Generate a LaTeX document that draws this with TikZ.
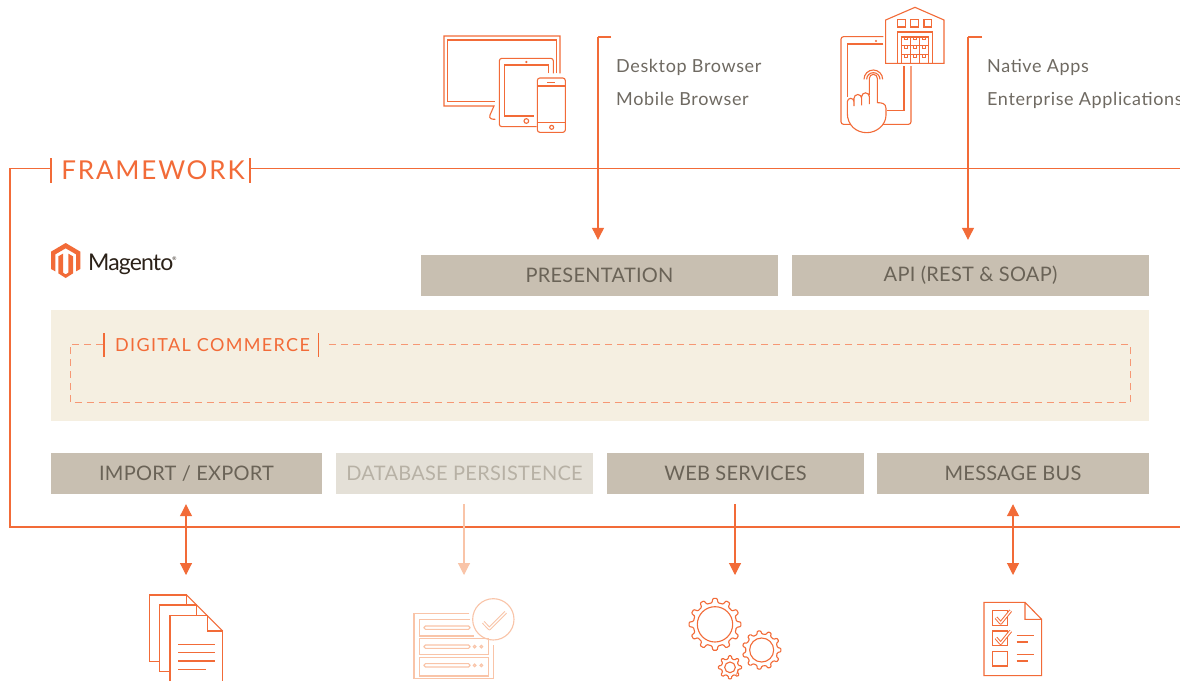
\documentclass[tikz,border=0pt]{standalone}
\usepackage{fontspec}
\setmainfont{Lato}
\newfontfamily\boxfont[LetterSpace=1.3]{Lato}
\newfontfamily\sidefont[LetterSpace=3.5]{Lato}
\newfontfamily\framefont[LetterSpace=7]{Lato}
\newfontfamily\dcfont[LetterSpace=7.5]{Lato}
\newfontfamily\logofont[LetterSpace=-3.7]{Lato}
\usetikzlibrary{arrows.meta,calc}
\definecolor{mgorange}{HTML}{F26B38}
\definecolor{mgpale}{HTML}{F9C4A8}
\definecolor{mgbox}{HTML}{C8BFB1}
\definecolor{mgboxpale}{HTML}{E4E0D7}
\definecolor{mgcream}{HTML}{F5EFE1}
\definecolor{mgtext}{HTML}{6A6357}
\definecolor{mgtextpale}{HTML}{B7B1A5}
\definecolor{mgside}{HTML}{6F6A62}
\definecolor{mgdark}{HTML}{2B2118}
\tikzset{
  layerbox/.style={fill=mgbox,text=mgtext,font=\boxfont\fontsize{20}{24}\selectfont,inner sep=0pt,anchor=center},
  sidetext/.style={text=mgside,font=\sidefont\fontsize{18}{22}\selectfont,anchor=base west,inner sep=0pt},
  frameline/.style={draw=mgorange,line width=1.1pt},
  tick/.style={draw=mgorange,line width=1.1pt},
  flow/.style={draw=mgorange,line width=1.1pt,-{Triangle[length=12pt,width=12pt]}},
  flowboth/.style={draw=mgorange,line width=1.1pt,{Triangle[length=12pt,width=12pt]}-{Triangle[length=12pt,width=12pt]}},
  icon/.style={draw=mgorange,line width=1.1pt,line join=miter},
  outlined/.style={double=white,double distance=1.3pt,line width=1pt,line join=round},
}
\newcommand{\gearshape}[7]{% cx cy outer root teeth inner colour
  \draw[#7,line width=1.1pt,rounded corners=.9pt]
    ({#1+#4*cos(360*(.5)/#5)},{#2+#4*sin(360*(.5)/#5)})
    \foreach \k in {1,...,#5}{
      -- ({#1+#4*cos(360*(\k-.27)/#5)},{#2+#4*sin(360*(\k-.27)/#5)})
      -- ({#1+#3*cos(360*(\k-.16)/#5)},{#2+#3*sin(360*(\k-.16)/#5)})
      -- ({#1+#3*cos(360*(\k+.16)/#5)},{#2+#3*sin(360*(\k+.16)/#5)})
      -- ({#1+#4*cos(360*(\k+.27)/#5)},{#2+#4*sin(360*(\k+.27)/#5)})
      -- ({#1+#4*cos(360*(\k+.5)/#5)},{#2+#4*sin(360*(\k+.5)/#5)})
    } -- cycle;
  \draw[#7,line width=1.1pt] (#1,#2) circle[radius=#6];
}
\begin{document}
\begin{tikzpicture}[x=1pt,y=-1pt]
\useasboundingbox (0,0) rectangle (1180,681);
\clip (0,0) rectangle (1180,681);
\fill[white] (0,0) rectangle (1180,681);

% cream panel
\node[fill=mgcream,minimum width=1098pt,minimum height=111pt,inner sep=0pt] (panel) at (600,365.5) {};

% layer boxes
\node[layerbox,minimum width=357pt,minimum height=41pt] (pres) at (599.5,275.5) {PRESENTATION};
\node[layerbox,minimum width=357pt,minimum height=41pt] (api) at (970.5,275.5) {API (REST \& SOAP)};
\node[layerbox,minimum width=271pt,minimum height=41pt] (imp) at (186.5,473.5) {IMPORT / EXPORT};
\node[layerbox,fill=mgboxpale,text=mgtextpale,minimum width=257pt,minimum height=41pt] (db) at (464.5,473.5) {DATABASE PERSISTENCE};
\node[layerbox,minimum width=257pt,minimum height=41pt] (web) at (735.5,473.5) {WEB SERVICES};
\node[layerbox,minimum width=272pt,minimum height=41pt] (bus) at (1013,473.5) {MESSAGE BUS};

% framework frame
\node[text=mgorange,font=\framefont\fontsize{26}{32}\selectfont,inner sep=0pt] (fw) at (153,170) {FRAMEWORK};
\coordinate (fwl) at (51,168.5);
\coordinate (fwr) at (250,168.5);
\coordinate (fwe) at (1180,168.5);
\coordinate (fbe) at (1180,527);
\draw[frameline] (fwl) -- (10,168.5) -- (10,527) -- (fbe);
\draw[frameline] (fwr) -- (fwe);
\draw[tick] (51,158) -- (51,183);
\draw[tick] (250,158) -- (250,183);

% digital commerce
\node[text=mgorange,font=\dcfont\fontsize{18}{22}\selectfont,inner sep=0pt] (dc) at (212.5,345) {DIGITAL COMMERCE};
\coordinate (dcl) at (103,344);
\coordinate (dcr) at (327,344);
\draw[draw=mgorange!70,line width=.8pt,dash pattern=on 7pt off 5pt] (dcl) -- (70,344) -- (70,402.5) -- (1130,402.5) -- (1130,344) -- (dcr);
\draw[tick] (104,333) -- (104,357);
\draw[tick] (318.5,333) -- (318.5,357);

% top connectors
\coordinate (ta) at (611,37);
\coordinate (tab) at (598,37);
\coordinate (tb) at (982,37);
\coordinate (tbb) at (968,37);
\draw[frameline] (ta) -- (tab);
\draw[flow,shorten >=15pt] (tab) -- (tab |- pres.north);
\draw[frameline] (tb) -- (tbb);
\draw[flow,shorten >=15pt] (tbb) -- (tbb |- api.north);

\node[sidetext] (t1) at (616,72) {Desktop Browser};
\node[sidetext] (t2) at (616,105) {Mobile Browser};
\node[sidetext] (t3) at (987,72) {Native Apps};
\node[sidetext] (t4) at (987,105) {Enterprise Applications};

% bottom connectors
\coordinate (ba) at (186,575);
\coordinate (bb) at (464,575);
\coordinate (bc) at (735,575);
\coordinate (bd) at (1013,575);
\draw[flowboth,shorten <=10pt] (ba |- imp.south) -- (ba);
\draw[flow,draw=mgpale,color=mgpale,shorten <=10pt] (bb |- db.south) -- (bb);
\draw[flow,shorten <=10pt] (bc |- web.south) -- (bc);
\draw[flowboth,shorten <=10pt] (bd |- bus.south) -- (bd);

% Magento logo
\begin{scope}[shift={(45,238)},x=1/3*1pt,y=-1/3*1pt]
  \fill[mgorange] (62,15) -- (106,41) -- (106,93) -- (93,100) -- (93,49) -- (62,31) -- (31,49) -- (31,100) -- (18,93) -- (18,41) -- cycle;
  \fill[mgorange] (40,55) -- (54,47) -- (54,104) -- (62,109) -- (70,104) -- (70,47) -- (84,55) -- (84,106) -- (62,120) -- (40,106) -- cycle;
\end{scope}
\node[text=mgdark,font=\logofont\fontsize{23}{26}\selectfont,anchor=base west,inner sep=0pt] (logo) at (88,270) {Magento};
\node[text=mgdark,font=\fontsize{5}{6}\selectfont,inner sep=0pt] (reg) at (174.5,259) {®};

% desktop icon
\begin{scope}[shift={(430,20)},x=1/3*1pt,y=-1/3*1pt,icon]
  \draw (390,160) -- (390,48) -- (42,48) -- (42,258) -- (192,258) -- (180,285) .. controls (176,296) and (185,298) .. (196,298);
  \draw (380,160) -- (380,60) -- (52,60) -- (52,245) -- (195,245);
  \draw[rounded corners=2.5pt] (320,320) -- (208,320) -- (208,115) -- (370,115) -- (370,160);
  \draw (355,160) -- (355,135) -- (224,135) -- (224,288) -- (312,288);
  \fill[mgorange] (289,126) circle[radius=3.5];
  \draw (289,303) circle[radius=7];
  \draw[rounded corners=2.5pt] (322,174) rectangle (406,337);
  \draw (322,198) -- (406,198) (322,307) -- (406,307) (352,187) -- (376,187);
  \draw (365,322) circle[radius=6];
\end{scope}

% warehouse and tablet icon
\begin{scope}[shift={(830,0)},x=1/3*1pt,y=-1/3*1pt,icon]
  \draw[rounded corners=2.5pt] (160,110) -- (33,110) -- (33,373) -- (243,373) -- (243,198);
  \draw (160,132) -- (52,132) -- (52,292);
  \draw (222,198) -- (222,332) -- (170,332);
  \fill[mgorange] (138,123) circle[radius=3.5];
  \draw (167,190) -- (167,60) -- (255,22) -- (342,60) -- (342,190) -- cycle;
  \draw (203,58) rectangle (226,81) (242,58) rectangle (265,81) (282,58) rectangle (305,81);
  \draw (202,190) -- (202,96) -- (308,96) -- (308,190);
  \draw (214,190) -- (214,111) -- (296,111) -- (296,190);
  \draw (241,111) -- (241,190) (268,111) -- (268,190) (214,137) -- (296,137) (214,164) -- (296,164);
  \foreach \cx in {228,255,282}{\foreach \cy in {111,137,164}{\draw[line width=.7pt] (\cx-5,\cy) -- (\cx-5,\cy+8) -- (\cx+5,\cy+8) -- (\cx+5,\cy);}}
  \draw (102,238) arc[start angle=180,end angle=360,radius=28];
  \draw (110,238) arc[start angle=180,end angle=360,radius=20];
  \draw[fill=white] (118,285) -- (118,235) arc[start angle=180,end angle=360,radius=12] -- (142,308)
    .. controls (155,308) and (168,310) .. (168,325) -- (168,345)
    .. controls (168,375) and (140,398) .. (110,398)
    .. controls (78,398) and (52,375) .. (52,340) -- (52,305)
    arc[start angle=180,end angle=360,radius=10] -- (72,318) -- (72,295)
    arc[start angle=180,end angle=360,radius=11.5] -- (95,316) -- (95,290)
    arc[start angle=180,end angle=360,radius=11.5] -- (118,312);
\end{scope}

% documents icon
\begin{scope}[shift={(130,585)},x=1/3*1pt,y=-1/3*1pt,icon]
  \draw (170,30) -- (58,30) -- (58,230) -- (88,230);
  \draw (170,30) -- (278,138);
  \draw (88,60) -- (200,60) (88,60) -- (88,260) -- (120,260);
  \draw (170,30) -- (170,60) (200,60) -- (200,92);
  \draw (120,288) -- (120,92) -- (232,92) -- (232,138) -- (278,138) -- (278,288);
  \draw (145,178) -- (255,178) (145,203) -- (255,203) (145,228) -- (255,228) (145,253) -- (228,253);
\end{scope}

% database icon
\begin{scope}[shift={(400,590)},x=1/3*1pt,y=-1/3*1pt,icon,draw=mgpale]
  \draw (208,70) -- (42,70) -- (42,265) -- (280,265) -- (280,165);
  \draw (210,88) -- (58,88) -- (58,138) -- (222,138);
  \draw (58,146) rectangle (265,193);
  \draw (58,202) rectangle (265,258);
  \draw[rounded corners=1.5pt] (72,108) rectangle (210,118);
  \draw[rounded corners=1.5pt] (72,165) rectangle (210,175);
  \draw[rounded corners=1.5pt] (72,221) rectangle (210,231);
  \foreach \dx/\dy in {224/170,244/170,224/226,244/226}{\draw (\dx,\dy) circle[radius=4];}
  \draw (280,88) circle[radius=62];
  \draw[outlined,draw=mgpale] (250,97) -- (268,116) -- (317,67);
\end{scope}

% gears icon
\begin{scope}[shift={(680,590)},x=1/3*1pt,y=-1/3*1pt]
  \gearshape{105}{103}{78}{65}{12}{53}{mgorange}
  \gearshape{245}{180}{58}{48}{11}{36}{mgorange}
  \gearshape{150}{232}{35}{26}{8}{16}{mgorange}
\end{scope}

% checklist icon
\begin{scope}[shift={(970,590)},x=1/3*1pt,y=-1/3*1pt,icon]
  \draw (165,37) -- (42,37) -- (42,257) -- (215,257) -- (215,88) -- (165,88) -- cycle (165,37) -- (215,88);
  \draw (68,62) rectangle (112,106) (68,123) rectangle (112,167) (68,184) rectangle (112,228);
  \draw[outlined,draw=mgorange] (78,83) -- (92,99) -- (122,62);
  \draw[outlined,draw=mgorange] (78,144) -- (92,160) -- (122,123);
  \draw (140,136) -- (192,136) (140,156) -- (175,156) (140,194) -- (192,194) (140,213) -- (175,213);
\end{scope}
\end{tikzpicture}
\end{document}
